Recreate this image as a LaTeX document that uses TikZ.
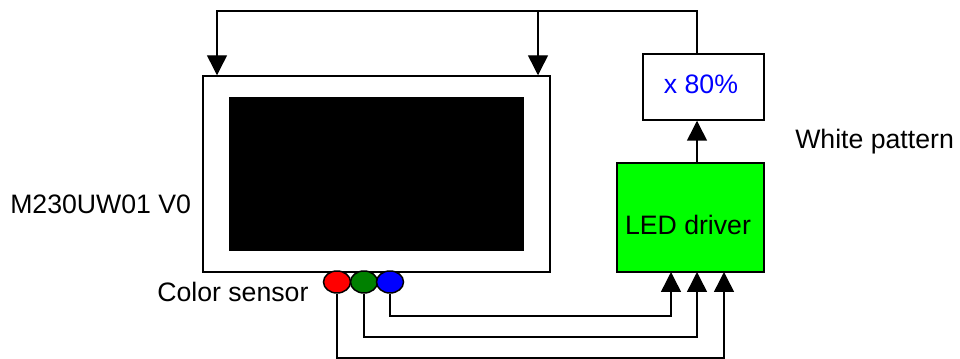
\documentclass[tikz,border=0pt]{standalone}
\usepackage{fontspec}
\setmainfont{Liberation Sans}
\usepackage{tikz}
\usetikzlibrary{calc,positioning,arrows.meta,shapes.geometric}

\begin{document}
\begin{tikzpicture}[
  x=0.75pt,y=-0.75pt,
  lbl/.style={font=\fontsize{20}{24}\selectfont,inner sep=0pt},
  box/.style={draw,rectangle,line width=1.1pt,inner sep=0pt},
  dot/.style={draw,ellipse,line width=1.1pt,minimum width=20.25pt,minimum height=16.5pt,inner sep=0pt},
  arr/.style={line width=1.1pt,-{Triangle[width=15pt,length=15pt]}},
]
  \useasboundingbox (0,0) rectangle (960,359);

  % Panel
  \node[box,minimum width=260.25pt,minimum height=147pt] (mon) at (376.5,174) {};
  \node[fill=black,minimum width=221.25pt,minimum height=115.5pt,inner sep=0pt] (screen) at (376.5,174) {};
  \node[lbl,anchor=base west] (model) at (10,214) {M230UW01 V0};

  % Driver chain
  \node[box,fill=green,minimum width=110.25pt,minimum height=81.75pt] (drv) at (690.5,217.5) {};
  \node[lbl] (drvtext) at (688,225) {LED driver};
  \node[box,minimum width=90.75pt,minimum height=49.5pt] (scale) at (703.5,87) {};
  \node[lbl,text=blue] (scaletext) at (701,84) {x 80\%};
  \node[lbl,anchor=base west] (white) at (795,149) {White pattern};

  % Color sensor
  \node[dot,fill=red] (sr) at (337,282) {};
  \node[dot,fill=green!50!black] (sg) at (364,282) {};
  \node[dot,fill=blue] (sb) at (390,282) {};
  \node[lbl,anchor=base west] (sensor) at (157,302) {Color sensor};

  % Corners of the feedback loop
  \coordinate (tr) at (697,11);
  \coordinate (tl) at (217,11);
  \coordinate (tm) at (538,11);
  \coordinate (inb) at (671,272);
  \coordinate (ing) at (697,272);
  \coordinate (inr) at (724,272);

  % Edges: backlight
  \draw[arr] (scale.north -| tr) -- (tr) -- (tl) -- (tl |- mon.north);
  \draw[arr] (tm) -- (tm |- mon.north);
  \draw[arr] (drv.north -| tr) -- (scale.south -| tr);

  % Edges: sensor to driver
  \draw[arr] (sb.south) |- ($(inb)+(0,44)$) -- (inb);
  \draw[arr] (sg.south) |- ($(ing)+(0,65)$) -- (ing);
  \draw[arr] (sr.south) |- ($(inr)+(0,86)$) -- (inr);
\end{tikzpicture}
\end{document}
